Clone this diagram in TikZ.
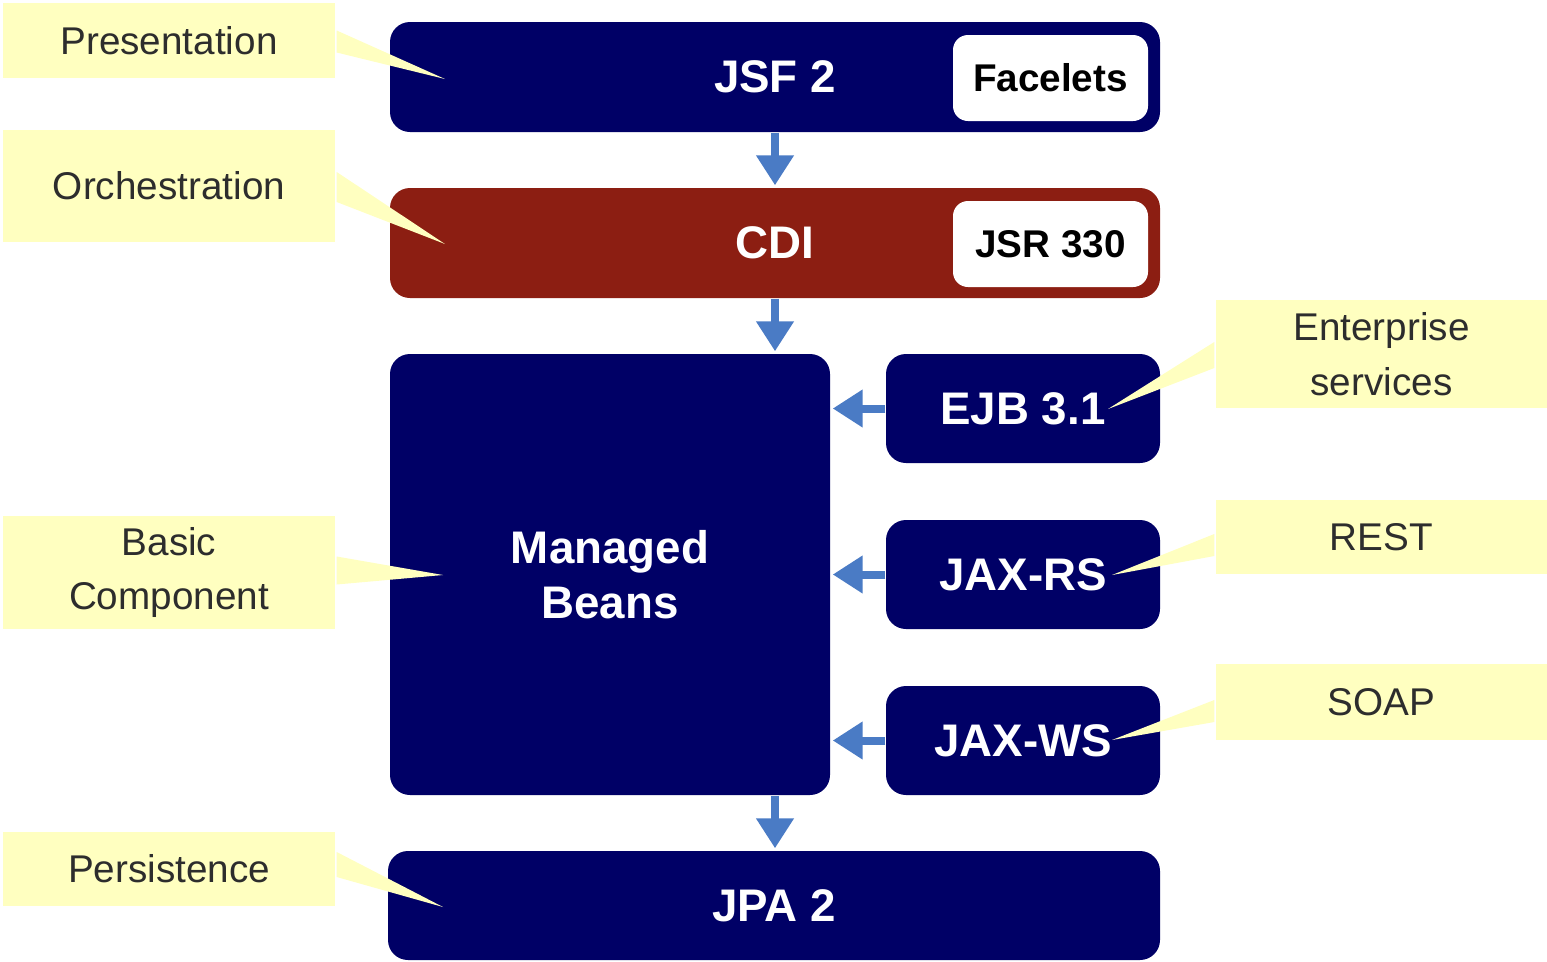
\documentclass[tikz,border=0pt]{standalone}
\usepackage{fontspec}
\setmainfont{Liberation Sans}
\usetikzlibrary{arrows.meta,calc}
\definecolor{navy}{RGB}{0,0,102}
\definecolor{cdired}{RGB}{140,30,18}
\definecolor{noteyellow}{RGB}{255,255,192}
\definecolor{arrowblue}{RGB}{74,123,197}
\definecolor{notetext}{RGB}{45,45,45}
\tikzset{
  bigbox/.style={fill=navy, rounded corners=0.2cm, text=white, font=\fontsize{13}{15.5}\selectfont\bfseries, align=center, inner sep=0pt},
  tagbox/.style={fill=white, rounded corners=0.15cm, text=black, font=\fontsize{11}{13}\selectfont\bfseries, inner sep=0pt, minimum width=1.95cm, minimum height=0.86cm},
  note/.style={fill=noteyellow, text=notetext, font=\fontsize{11}{15.5}\selectfont, align=center, inner sep=0pt},
  notetail/.style={fill=noteyellow},
  flow/.style={draw=arrowblue, line width=0.08cm, -{Triangle[width=0.36cm,length=0.3cm]}, shorten >=0.02cm}
}
\begin{document}
\begin{tikzpicture}
\useasboundingbox[fill=white] (0,0) rectangle (15.47,-9.61);
% main boxes
\node[bigbox, minimum width=7.70cm, minimum height=1.10cm] (jsf) at (7.75,-0.77) {JSF 2};
\node[tagbox] (facelets) at (10.505,-0.78) {Facelets};
\node[bigbox, fill=cdired, minimum width=7.70cm, minimum height=1.10cm] (cdi) at (7.75,-2.43) {CDI};
\node[tagbox] (jsr) at (10.505,-2.44) {JSR 330};
\node[bigbox, minimum width=4.40cm, minimum height=4.41cm] (mb) at (6.10,-5.745) {Managed\\Beans};
\node[bigbox, minimum width=2.74cm, minimum height=1.09cm] (ejb) at (10.23,-4.085) {EJB 3.1};
\node[bigbox, minimum width=2.74cm, minimum height=1.09cm] (jaxrs) at (10.23,-5.745) {JAX-RS};
\node[bigbox, minimum width=2.74cm, minimum height=1.09cm] (jaxws) at (10.23,-7.405) {JAX-WS};
\node[bigbox, minimum width=7.72cm, minimum height=1.09cm] (jpa) at (7.74,-9.055) {JPA 2};
% arrows
\draw[flow] (jsf.south) -- (cdi.north);
\draw[flow] (cdi.south) -- (cdi.south |- mb.north);
\draw[flow] (cdi.south |- mb.south) -- (cdi.south |- jpa.north);
\draw[flow] (ejb.west) -- (mb.east |- ejb.west);
\draw[flow] (jaxrs.west) -- (mb.east |- jaxrs.west);
\draw[flow] (jaxws.west) -- (mb.east |- jaxws.west);
% callouts
\node[note, minimum width=3.32cm, minimum height=0.75cm] (pres) at (1.69,-0.405) {Presentation};
\node[note, minimum width=3.32cm, minimum height=1.12cm] (orch) at (1.69,-1.86) {Orchestration};
\node[note, minimum width=3.32cm, minimum height=1.13cm] (basic) at (1.69,-5.725) {Basic\\Component};
\node[note, minimum width=3.32cm, minimum height=0.74cm] (pers) at (1.69,-8.69) {Persistence};
\node[note, minimum width=3.31cm, minimum height=1.08cm] (ent) at (13.815,-3.54) {Enterprise\\services};
\node[note, minimum width=3.31cm, minimum height=0.74cm] (rest) at (13.815,-5.37) {REST};
\node[note, minimum width=3.31cm, minimum height=0.76cm] (soap) at (13.815,-7.02) {SOAP};
% callout tips
\coordinate (presTip) at (4.45,-0.79);
\coordinate (orchTip) at (4.45,-2.44);
\coordinate (basicTip) at (4.43,-5.75);
\coordinate (persTip) at (4.43,-9.07);
\coordinate (entTip) at (11.08,-4.09);
\coordinate (restTip) at (11.12,-5.75);
\coordinate (soapTip) at (11.12,-7.40);
\fill[notetail] ($(pres.east)+(0.01,0.10)$) -- (presTip) -- ($(pres.east)+(0.01,-0.12)$) -- cycle;
\fill[notetail] ($(orch.east)+(0.01,0.14)$) -- (orchTip) -- ($(orch.east)+(0.01,-0.16)$) -- cycle;
\fill[notetail] ($(basic.east)+(0.01,0.16)$) -- (basicTip) -- ($(basic.east)+(0.01,-0.12)$) -- cycle;
\fill[notetail] ($(pers.east)+(0.01,0.17)$) -- (persTip) -- ($(pers.east)+(0.01,-0.08)$) -- cycle;
\fill[notetail] ($(ent.west)+(-0.01,0.12)$) -- (entTip) -- ($(ent.west)+(-0.01,-0.14)$) -- cycle;
\fill[notetail] ($(rest.west)+(-0.01,0.03)$) -- (restTip) -- ($(rest.west)+(-0.01,-0.19)$) -- cycle;
\fill[notetail] ($(soap.west)+(-0.01,0.02)$) -- (soapTip) -- ($(soap.west)+(-0.01,-0.20)$) -- cycle;
\end{tikzpicture}
\end{document}
